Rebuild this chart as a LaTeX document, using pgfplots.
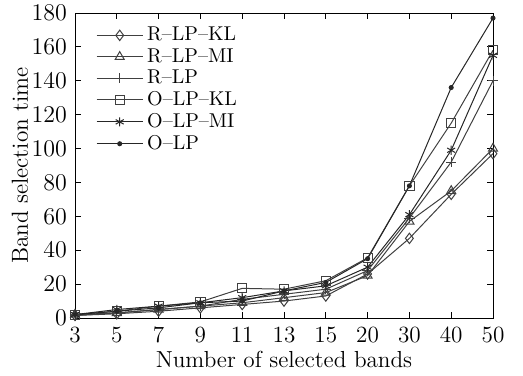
\documentclass[border=0pt]{standalone}
\usepackage{pgfplots}
\pgfplotsset{compat=1.18}
\begin{document}
\begin{tikzpicture}
\begin{axis}[
  scale only axis,
  width=209pt, height=152.5pt,
  xmin=0, xmax=10, ymin=0, ymax=180,
  xtick={0,1,2,3,4,5,6,7,8,9,10},
  xticklabels={3,5,7,9,11,13,15,20,30,40,50},
  ytick={0,20,40,60,80,100,120,140,160,180},
  tick style={black, thin},
  major tick length=3pt,
  xlabel={Number of selected bands},
  ylabel={Band selection time},
  xlabel style={at={(axis description cs:0.5,0)}, yshift=-20.5pt, anchor=center},
  ylabel style={at={(axis description cs:0,0.5)}, rotate=0, yshift=27.5pt, anchor=center},
  xticklabel style={yshift=-1pt},
  yticklabel style={xshift=-0.5pt},
  tick label style={font=\fontsize{11.6}{13}\selectfont},
  label style={font=\fontsize{11.6}{13}\selectfont},
  legend style={draw=none, fill=none, at={(0.045,0.975)}, anchor=north west,
    font=\fontsize{10}{12}\selectfont, row sep=-1.6pt, inner sep=1pt},
  legend cell align=left,
  legend image code/.code={\draw[#1] (0pt,0pt) -- (23pt,0pt); \draw[#1, only marks] plot coordinates {(11.5pt,0pt)};},
  every axis plot/.append style={line width=0.5pt},
]
\addplot[black!75, mark=diamond, mark size=2.6pt, mark options={solid, fill=white}] coordinates {
 (0,1.5) (1,2.5) (2,4) (3,6) (4,8) (5,10) (6,13) (7,26) (8,47) (9,73) (10,97)};
\addlegendentry{R--LP--KL}
\addplot[black!75, mark=triangle, mark size=2.6pt, mark options={solid, fill=white}] coordinates {
 (0,2) (1,3) (2,5) (3,7) (4,9) (5,12) (6,15) (7,25) (8,57) (9,75) (10,100)};
\addlegendentry{R--LP--MI}
\addplot[black!75, mark=+, mark size=2.6pt] coordinates {
 (0,1.5) (1,3) (2,5) (3,7) (4,11) (5,14) (6,17) (7,28) (8,59) (9,92) (10,140)};
\addlegendentry{R--LP}
\addplot[black!75, mark=square, mark size=2.3pt, mark options={solid, fill=white}] coordinates {
 (0,2) (1,4) (2,7) (3,9.5) (4,17.5) (5,17) (6,22) (7,35.5) (8,78) (9,115) (10,158)};
\addlegendentry{O--LP--KL}
\addplot[black!85, mark=asterisk, mark size=2.3pt] coordinates {
 (0,2) (1,5) (2,7) (3,9) (4,12) (5,16) (6,19) (7,30) (8,61) (9,99) (10,155)};
\addlegendentry{O--LP--MI}
\addplot[black!85, mark=*, mark size=1pt] coordinates {
 (0,2) (1,4) (2,6) (3,9) (4,10) (5,16) (6,21) (7,35) (8,78) (9,136) (10,177)};
\addlegendentry{O--LP}
\end{axis}
\pgfresetboundingbox
\path ([shift={(-37.5pt,-28.5pt)}]current axis.south west) rectangle ([shift={(15pt,6.5pt)}]current axis.north east);
\end{tikzpicture}
\end{document}
